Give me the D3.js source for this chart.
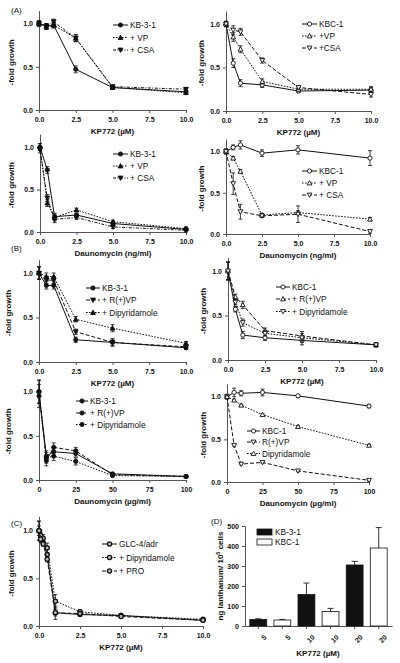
<!DOCTYPE html>
<html><head><meta charset="utf-8">
<script src="https://cdn.jsdelivr.net/npm/d3@7/dist/d3.min.js"></script>
<style>body{margin:0;background:#fff} svg{display:block} text{font-family:'Liberation Sans',Arial,sans-serif;fill:#111}</style>
</head><body><svg id="c" width="400" height="663"></svg>
<script>
// ---------- DATA ----------
const kpDose = [0, 0.5, 1, 2.5, 5, 10];
const dnNgDose = [0, 0.5, 1, 2.5, 5, 10];
const dnUgDose = [0, 5, 10, 25, 50, 100];
const kpDoseC = [0, 0.1, 0.25, 0.5, 1, 2.5, 5, 10];
const kpTicks = [0, 2.5, 5, 7.5, 10];
const ugTicks = [0, 25, 50, 75, 100];
const foldTicks = [0, 0.5, 1];

// (A) KB-3-1, KP772
const a1KB  = [1.00, 0.97, 0.98, 0.47, 0.26, 0.21];
const a1VP  = [1.00, 0.96, 0.98, 0.83, 0.26, 0.20];
const a1CSA = [1.00, 0.97, 1.02, 0.83, 0.27, 0.24];
const a1Err = [0.03, 0.03, 0.03, 0.04, 0.02, 0.02];
// (A) KBC-1, KP772
const a2KBC = [1.00, 0.55, 0.32, 0.30, 0.23, 0.24];
const a2VP  = [1.00, 0.85, 0.71, 0.34, 0.25, 0.25];
const a2CSA = [1.00, 0.93, 0.91, 0.58, 0.27, 0.19];
const a2Err = [0.03, 0.05, 0.04, 0.03, 0.02, 0.03];
// (A) KB-3-1, Daunomycin ng/ml
const a3KB  = [1.00, 0.73, 0.18, 0.20, 0.10, 0.03];
const a3VP  = [1.00, 0.34, 0.17, 0.26, 0.12, 0.04];
const a3CSA = [0.97, 0.40, 0.15, 0.17, 0.06, 0.02];
const a3Err = [0.04, 0.04, 0.04, 0.02, 0.02, 0.02];
// (A) KBC-1, Daunomycin ng/ml
const a4KBC = [1.00, 1.05, 1.08, 0.98, 1.02, 0.92];
const a4VP  = [1.00, 0.92, 0.76, 0.23, 0.26, 0.18];
const a4CSA = [1.00, 0.61, 0.27, 0.22, 0.24, 0.03];
const a4Err = [0.03, 0.03, 0.05, 0.04, 0.05, 0.09];
const a4ErrCSA = [0.03, 0.13, 0.09, 0.02, 0.10, 0.02];
// (B) KB-3-1, KP772
const b1KB  = [1.00, 0.86, 0.86, 0.25, 0.22, 0.16];
const b1VP  = [1.00, 0.92, 0.92, 0.34, 0.22, 0.17];
const b1Dip = [1.00, 0.96, 0.96, 0.48, 0.38, 0.21];
const b1Err = [0.07, 0.04, 0.04, 0.03, 0.04, 0.02];
// (B) KBC-1, KP772
const b2KBC = [1.00, 0.57, 0.28, 0.25, 0.22, 0.17];
const b2VP  = [1.00, 0.71, 0.62, 0.33, 0.27, 0.17];
const b2Dip = [1.00, 0.65, 0.42, 0.30, 0.25, 0.17];
const b2Err = [0.10, 0.03, 0.04, 0.03, 0.05, 0.02];
// (B) KB-3-1, Daunomycin µg/ml
const b3KB  = [1.00, 0.27, 0.32, 0.30, 0.07, 0.04];
const b3VP  = [1.00, 0.22, 0.37, 0.33, 0.06, 0.04];
const b3Dip = [0.95, 0.25, 0.27, 0.21, 0.05, 0.04];
const b3Err = [0.13, 0.06, 0.05, 0.04, 0.01, 0.01];
// (B) KBC-1, Daunomycin µg/ml
const b4KBC = [1.00, 1.05, 1.04, 1.05, 1.01, 0.89];
const b4VP  = [1.00, 0.43, 0.21, 0.23, 0.13, 0.02];
const b4Dip = [1.00, 0.96, 0.90, 0.79, 0.65, 0.43];
const b4Err = [0.03, 0.05, 0.03, 0.04, 0.01, 0.02];
// (C) GLC-4/adr, KP772
const cGLC = [1.00, 0.93, 0.88, 0.75, 0.14, 0.12, 0.11, 0.06];
const cDip = [1.00, 0.95, 0.92, 0.82, 0.26, 0.15, 0.11, 0.07];
const cPRO = [1.00, 0.91, 0.86, 0.70, 0.14, 0.13, 0.10, 0.06];
const cErr = [0.10, 0.05, 0.04, 0.05, 0.07, 0.02, 0.01, 0.01];
// (D) lanthanum uptake
const dLabels = ["5", "5", "10", "10", "20", "20"];
const dCells  = ["KB-3-1", "KBC-1", "KB-3-1", "KBC-1", "KB-3-1", "KBC-1"];
const dValues = [32, 30, 157, 72, 305, 390];
const dErrors = [4, 3, 58, 16, 18, 102];
const dTicks  = [0, 100, 200, 300, 400, 500];

// ---------- DRAW ----------
const svg = d3.select("#c");
const DASH = {solid: null, dash: "4,2", dot: "1.6,1.4", dashdot: "3,1.5,1,1.5"};

function marker(g, type, cx, cy) {
  const filled = type.startsWith("f");
  const fill = type === "gc" ? "#bbb" : (filled ? "#111" : "#fff");
  const sw = type === "gc" ? 1.3 : 0.9;
  const shape = type.slice(1);
  if (shape === "c") {
    g.append("circle").attr("cx", cx).attr("cy", cy).attr("r", 2.1)
      .attr("fill", fill).attr("stroke", "#111").attr("stroke-width", sw);
  } else {
    const s = 2.4;
    const pts = shape === "u"
      ? [[cx, cy - s], [cx + s, cy + s * 0.8], [cx - s, cy + s * 0.8]]
      : [[cx, cy + s], [cx + s, cy - s * 0.8], [cx - s, cy - s * 0.8]];
    g.append("polygon").attr("points", pts.map(p => p.join(",")).join(" "))
      .attr("fill", fill).attr("stroke", "#111").attr("stroke-width", sw);
  }
}

function panel(cfg) {
  const g = svg.append("g");
  const top = 1.15;
  const x = d3.scaleLinear().domain(cfg.xDomain).range([cfg.x0, cfg.x1]);
  const y = d3.scaleLinear().domain([0, top])
    .range([cfg.yZero, cfg.yZero - (cfg.yZero - cfg.yOne) * top]);
  const xa = g.append("g").attr("transform", `translate(0,${cfg.yZero})`)
    .call(d3.axisBottom(x).tickValues(cfg.xTicks).tickSize(3).tickSizeOuter(0).tickFormat(cfg.xFmt));
  const ya = g.append("g").attr("transform", `translate(${cfg.x0},0)`)
    .call(d3.axisLeft(y).tickValues(foldTicks).tickSize(3).tickSizeOuter(0).tickFormat(d3.format(".1f")));
  [xa, ya].forEach(a => {
    a.selectAll("path,line").attr("stroke", "#555").attr("stroke-width", 1);
    a.selectAll("text").attr("font-size", 7).attr("font-weight", "bold")
      .attr("font-family", "'Liberation Sans',Arial,sans-serif").attr("fill", "#111");
  });
  xa.selectAll("text").attr("dy", "0.9em");
  g.append("text").attr("x", (cfg.x0 + cfg.x1) / 2).attr("y", cfg.yZero + 24)
    .attr("text-anchor", "middle").attr("font-size", 8).attr("font-weight", "bold").text(cfg.xTitle);
  g.append("text").attr("transform", `translate(${cfg.yTitleX},${cfg.yZero - (cfg.yZero - cfg.yOne) * 0.55}) rotate(-90)`)
    .attr("text-anchor", "middle").attr("font-size", 8).attr("font-weight", "bold").text("-fold growth");

  const line = d3.line().x(d => x(d[0])).y(d => y(d[1]));
  cfg.series.forEach(s => {
    const pts = cfg.xs.map((xv, i) => [xv, s.values[i], s.err[i]]);
    g.append("path").datum(pts).attr("d", line).attr("fill", "none")
      .attr("stroke", "#111").attr("stroke-width", 1).attr("stroke-dasharray", DASH[s.dash]);
    pts.forEach(p => {
      const cx = x(p[0]), y1 = y(p[1] + p[2]), y2 = y(p[1] - p[2]);
      g.append("line").attr("x1", cx).attr("x2", cx).attr("y1", y1).attr("y2", y2).attr("stroke", "#111").attr("stroke-width", 0.8);
      [y1, y2].forEach(yy => g.append("line").attr("x1", cx - 2).attr("x2", cx + 2).attr("y1", yy).attr("y2", yy).attr("stroke", "#111").attr("stroke-width", 0.8));
    });
    pts.forEach(p => marker(g, s.mk, x(p[0]), y(p[1])));
  });
  // legend
  const L = cfg.legend;
  cfg.series.forEach((s, i) => {
    const ly = L.ys[i];
    g.append("line").attr("x1", L.x0).attr("x2", L.x1).attr("y1", ly).attr("y2", ly)
      .attr("stroke", "#111").attr("stroke-width", 1).attr("stroke-dasharray", DASH[s.dash]);
    marker(g, s.mk, (L.x0 + L.x1) / 2, ly);
    g.append("text").attr("x", L.x1 + 2).attr("y", ly + 3).attr("font-size", 8.3).text(s.name);
  });
}

const fmt1 = d3.format(".1f"), fmt0 = d3.format("d");

panel({x0: 39, x1: 186, yZero: 110, yOne: 23.5, xDomain: [0, 10], xTicks: kpTicks, xFmt: fmt1, xTitle: "KP772 (µM)", yTitleX: 14, xs: kpDose,
  series: [
    {name: "KB-3-1", values: a1KB, err: a1Err, mk: "fc", dash: "solid"},
    {name: "+ VP", values: a1VP, err: a1Err, mk: "fu", dash: "dot"},
    {name: "+ CSA", values: a1CSA, err: a1Err, mk: "fd", dash: "dashdot"}],
  legend: {x0: 113, x1: 128, ys: [25, 37.5, 50]}});

panel({x0: 226, x1: 371, yZero: 111, yOne: 24, xDomain: [0, 10], xTicks: kpTicks, xFmt: fmt1, xTitle: "KP772 (µM)", yTitleX: 204, xs: kpDose,
  series: [
    {name: "KBC-1", values: a2KBC, err: a2Err, mk: "oc", dash: "solid"},
    {name: "+VP", values: a2VP, err: a2Err, mk: "ou", dash: "dot"},
    {name: "+CSA", values: a2CSA, err: a2Err, mk: "od", dash: "dash"}],
  legend: {x0: 302, x1: 317, ys: [24, 36, 48]}});

panel({x0: 40, x1: 186, yZero: 232, yOne: 147, xDomain: [0, 10], xTicks: kpTicks, xFmt: fmt1, xTitle: "Daunomycin (ng/ml)", yTitleX: 14, xs: dnNgDose,
  series: [
    {name: "KB-3-1", values: a3KB, err: a3Err, mk: "fc", dash: "solid"},
    {name: "+ VP", values: a3VP, err: a3Err, mk: "fu", dash: "dot"},
    {name: "+ CSA", values: a3CSA, err: a3Err, mk: "fd", dash: "dashdot"}],
  legend: {x0: 113, x1: 128, ys: [154, 166, 178]}});

panel({x0: 226, x1: 370, yZero: 234, yOne: 151.5, xDomain: [0, 10], xTicks: kpTicks, xFmt: fmt1, xTitle: "Daunomycin (ng/ml)", yTitleX: 204, xs: dnNgDose,
  series: [
    {name: "KBC-1", values: a4KBC, err: a4Err, mk: "oc", dash: "solid"},
    {name: "+ VP", values: a4VP, err: a4Err.map(() => 0.02), mk: "ou", dash: "dot"},
    {name: "+ CSA", values: a4CSA, err: a4ErrCSA, mk: "od", dash: "dash"}],
  legend: {x0: 302, x1: 317, ys: [171, 183, 195]}});

panel({x0: 39, x1: 186, yZero: 362, yOne: 273, xDomain: [0, 10], xTicks: kpTicks, xFmt: fmt1, xTitle: "KP772 (µM)", yTitleX: 11, xs: kpDose,
  series: [
    {name: "KB-3-1", values: b1KB, err: b1Err, mk: "fc", dash: "solid"},
    {name: "+ R(+)VP", values: b1VP, err: b1Err, mk: "fd", dash: "dash"},
    {name: "+ Dipyridamole", values: b1Dip, err: b1Err, mk: "fu", dash: "dot"}],
  legend: {x0: 86, x1: 100, ys: [288, 300, 312.5]}});

panel({x0: 228, x1: 376, yZero: 360, yOne: 271, xDomain: [0, 10], xTicks: kpTicks, xFmt: fmt1, xTitle: "KP772 (µM)", yTitleX: 206, xs: kpDose,
  series: [
    {name: "KBC-1", values: b2KBC, err: b2Err, mk: "oc", dash: "solid"},
    {name: "+ R(+)VP", values: b2VP, err: b2Err, mk: "ou", dash: "dash"},
    {name: "+ Dipyridamole", values: b2Dip, err: b2Err, mk: "od", dash: "dot"}],
  legend: {x0: 276, x1: 290, ys: [287, 299, 311.5]}});

panel({x0: 39, x1: 186, yZero: 480, yOne: 391.7, xDomain: [0, 100], xTicks: ugTicks, xFmt: fmt0, xTitle: "Daunomycin (µg/ml)", yTitleX: 11, xs: dnUgDose,
  series: [
    {name: "KB-3-1", values: b3KB, err: b3Err, mk: "fc", dash: "solid"},
    {name: "+ R(+)VP", values: b3VP, err: b3Err, mk: "fc", dash: "dash"},
    {name: "+ Dipyridamole", values: b3Dip, err: b3Err, mk: "fc", dash: "dot"}],
  legend: {x0: 76, x1: 88, ys: [401, 413, 424.5]}});

panel({x0: 227, x1: 369, yZero: 482, yOne: 396.7, xDomain: [0, 100], xTicks: ugTicks, xFmt: fmt0, xTitle: "Daunomycin (µg/ml)", yTitleX: 206, xs: dnUgDose,
  series: [
    {name: "KBC-1", values: b4KBC, err: b4Err, mk: "oc", dash: "solid"},
    {name: "R(+)VP", values: b4VP, err: b4Err.map(() => 0.01), mk: "od", dash: "dash"},
    {name: "Dipyridamole", values: b4Dip, err: b4Err.map(() => 0.01), mk: "ou", dash: "dot"}],
  legend: {x0: 247, x1: 260, ys: [431, 442, 453.5]}});

panel({x0: 39, x1: 203, yZero: 626, yOne: 530.7, xDomain: [0, 10], xTicks: kpTicks, xFmt: fmt1, xTitle: "KP772 (µM)", yTitleX: 14, xs: kpDoseC,
  series: [
    {name: "GLC-4/adr", values: cGLC, err: cErr, mk: "gc", dash: "solid"},
    {name: "+ Dipyridamole", values: cDip, err: cErr, mk: "gc", dash: "dot"},
    {name: "+ PRO", values: cPRO, err: cErr.map(e => e * 0.5), mk: "gc", dash: "dash"}],
  legend: {x0: 102, x1: 117, ys: [544, 557.5, 571]}});

// panel letters
[["(A)", 11, 13], ["(B)", 11, 251], ["(C)", 11, 526], ["(D)", 211, 524]].forEach(l =>
  svg.append("text").attr("x", l[1]).attr("y", l[2]).attr("font-size", 8).text(l[0]));

// (D) bar chart
(function () {
  const g = svg.append("g");
  const x = d3.scaleBand().domain(d3.range(dValues.length)).range([245, 392]).paddingInner(0.3).paddingOuter(0.2);
  const y = d3.scaleLinear().domain([0, 500]).range([626, 526]);
  const ya = g.append("g").attr("transform", "translate(245,0)")
    .call(d3.axisLeft(y).tickValues(dTicks).tickSize(3).tickSizeOuter(0));
  const xa = g.append("g").attr("transform", "translate(0,626)")
    .call(d3.axisBottom(x).tickSize(3).tickSizeOuter(0).tickFormat(i => dLabels[i]));
  [xa, ya].forEach(a => {
    a.selectAll("path,line").attr("stroke", "#555");
    a.selectAll("text").attr("font-size", 7).attr("font-weight", "bold")
      .attr("font-family", "'Liberation Sans',Arial,sans-serif").attr("fill", "#111");
  });
  xa.selectAll("text").attr("text-anchor", "end").attr("dy", "0.3em")
    .attr("transform", "translate(3,6) rotate(-45)");
  dValues.forEach((v, i) => {
    const cx = x(i) + x.bandwidth() / 2;
    g.append("line").attr("x1", cx).attr("x2", cx).attr("y1", y(v)).attr("y2", y(v + dErrors[i])).attr("stroke", "#333");
    g.append("line").attr("x1", cx - 3).attr("x2", cx + 3).attr("y1", y(v + dErrors[i])).attr("y2", y(v + dErrors[i])).attr("stroke", "#333");
    g.append("rect").attr("x", x(i)).attr("width", x.bandwidth()).attr("y", y(v)).attr("height", 626 - y(v))
      .attr("fill", dCells[i] === "KB-3-1" ? "#111" : "#fff").attr("stroke", "#111").attr("stroke-width", 0.8);
  });
  g.append("text").attr("x", 318).attr("y", 656).attr("text-anchor", "middle")
    .attr("font-size", 8).attr("font-weight", "bold").text("KP772 (µM)");
  const yt = g.append("text").attr("transform", "translate(223,576) rotate(-90)").attr("text-anchor", "middle")
    .attr("font-size", 8).attr("font-weight", "bold");
  yt.append("tspan").text("ng lanthanum/ 10");
  yt.append("tspan").attr("font-size", 5.5).attr("dy", -3).text("5");
  yt.append("tspan").attr("dy", 3).text(" cells");
  ["KB-3-1", "KBC-1"].forEach((n, i) => {
    const ly = 532 + i * 10;
    g.append("rect").attr("x", 257).attr("y", ly - 3).attr("width", 15).attr("height", 6)
      .attr("fill", n === "KB-3-1" ? "#111" : "#fff").attr("stroke", "#111").attr("stroke-width", 0.8);
    g.append("text").attr("x", 275).attr("y", ly + 3).attr("font-size", 8.3).text(n);
  });
})();
</script></body></html>
